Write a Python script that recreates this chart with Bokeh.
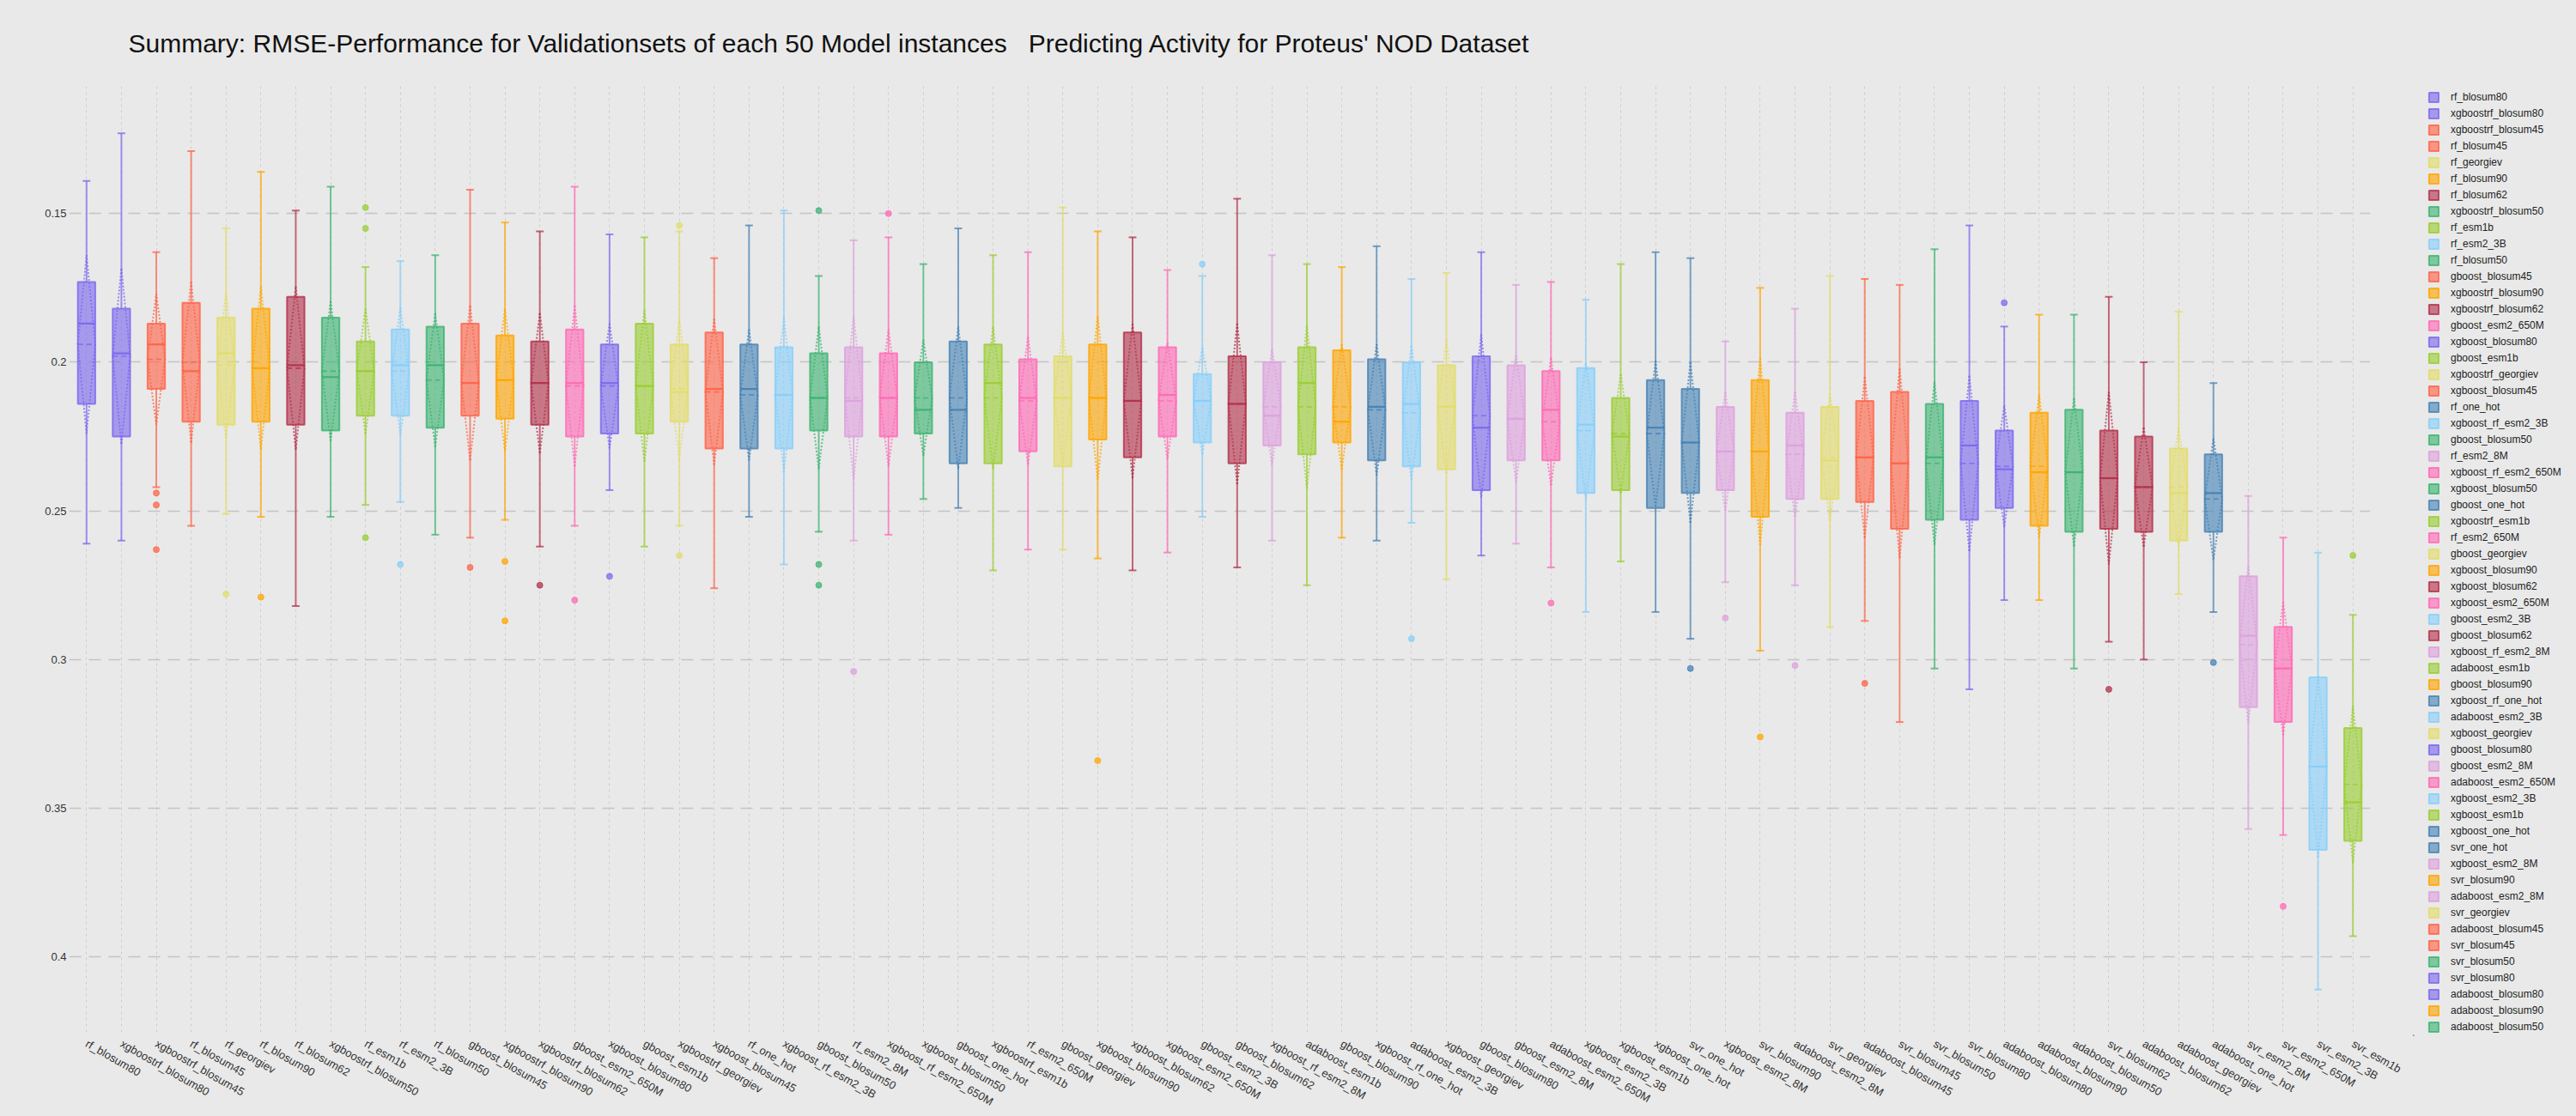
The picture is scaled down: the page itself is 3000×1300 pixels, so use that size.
import math
from bokeh.plotting import figure
from bokeh.layouts import row
from bokeh.models import (ColumnDataSource, FactorRange, Range1d, FixedTicker,
                          NumeralTickFormatter, Legend, LegendItem, Title)
from bokeh.transform import dodge
from bokeh.embed import file_html
from bokeh.resources import INLINE

TITLE = ("Summary: RMSE-Performance for Validationsets of each 50 Model instances   "
         "Predicting Activity for Proteus' NOD Dataset")

models = [
    "rf_blosum80", "xgboostrf_blosum80", "xgboostrf_blosum45", "rf_blosum45", "rf_georgiev",
    "rf_blosum90", "rf_blosum62", "xgboostrf_blosum50", "rf_esm1b", "rf_esm2_3B",
    "rf_blosum50", "gboost_blosum45", "xgboostrf_blosum90", "xgboostrf_blosum62", "gboost_esm2_650M",
    "xgboost_blosum80", "gboost_esm1b", "xgboostrf_georgiev", "xgboost_blosum45", "rf_one_hot",
    "xgboost_rf_esm2_3B", "gboost_blosum50", "rf_esm2_8M", "xgboost_rf_esm2_650M", "xgboost_blosum50",
    "gboost_one_hot", "xgboostrf_esm1b", "rf_esm2_650M", "gboost_georgiev", "xgboost_blosum90",
    "xgboost_blosum62", "xgboost_esm2_650M", "gboost_esm2_3B", "gboost_blosum62", "xgboost_rf_esm2_8M",
    "adaboost_esm1b", "gboost_blosum90", "xgboost_rf_one_hot", "adaboost_esm2_3B", "xgboost_georgiev",
    "gboost_blosum80", "gboost_esm2_8M", "adaboost_esm2_650M", "xgboost_esm2_3B", "xgboost_esm1b",
    "xgboost_one_hot", "svr_one_hot", "xgboost_esm2_8M", "svr_blosum90", "adaboost_esm2_8M",
    "svr_georgiev", "adaboost_blosum45", "svr_blosum45", "svr_blosum50", "svr_blosum80",
    "adaboost_blosum80", "adaboost_blosum90", "adaboost_blosum50", "svr_blosum62", "adaboost_blosum62",
    "adaboost_georgiev", "adaboost_one_hot", "svr_esm2_8M", "svr_esm2_650M", "svr_esm2_3B",
    "svr_esm1b",
]

# upper whisker end (smallest RMSE, drawn at top because axis is reversed)
whisker_low = [
    .139, .123, .163, .129, .155, .136, .149, .141, .168, .166,
    .164, .142, .153, .156, .141, .157, .158, .156, .165, .154,
    .149, .171, .159, .158, .167, .155, .164, .163, .148, .156,
    .158, .169, .171, .145, .164, .167, .168, .161, .172, .170,
    .163, .174, .173, .179, .167, .163, .165, .193, .175, .182,
    .171, .172, .174, .162, .154, .188, .184, .184, .178, .200,
    .183, .207, .245, .259, .264, .285,
]
q1_vals = [
    .173, .182, .187, .180, .185, .182, .178, .185, .193, .189,
    .188, .187, .191, .193, .189, .194, .187, .194, .190, .194,
    .195, .197, .195, .197, .200, .193, .194, .199, .198, .194,
    .190, .195, .204, .198, .200, .195, .196, .199, .200, .201,
    .198, .201, .203, .202, .212, .206, .209, .215, .206, .217,
    .215, .213, .210, .214, .213, .223, .217, .216, .223, .225,
    .229, .231, .272, .289, .306, .323,
]
median_vals = [
    .187, .197, .194, .203, .197, .202, .201, .205, .203, .201,
    .201, .207, .206, .207, .207, .207, .208, .210, .209, .209,
    .211, .212, .213, .212, .216, .216, .207, .212, .212, .212,
    .213, .211, .213, .214, .218, .207, .220, .215, .214, .215,
    .222, .219, .216, .221, .225, .222, .227, .230, .230, .228,
    .233, .232, .234, .232, .228, .236, .237, .237, .239, .242,
    .244, .244, .292, .303, .336, .348,
]
mean_vals = [
    .194, .198, .199, .200, .201, .202, .202, .203, .203, .203,
    .206, .207, .206, .207, .208, .208, .208, .209, .210, .211,
    .211, .212, .212, .212, .212, .212, .212, .213, .212, .212,
    .213, .213, .213, .214, .215, .215, .215, .216, .217, .215,
    .218, .219, .220, .223, .224, .224, .227, .230, .230, .231,
    .232, .232, .234, .234, .234, .235, .235, .237, .239, .242,
    .242, .246, .295, .303, .336, .342,
]
q3_vals = [
    .214, .225, .209, .220, .221, .220, .221, .223, .218, .218,
    .222, .218, .219, .221, .225, .224, .224, .220, .229, .229,
    .229, .223, .225, .225, .224, .234, .234, .230, .235, .226,
    .232, .225, .227, .234, .228, .231, .227, .233, .235, .236,
    .243, .233, .233, .244, .243, .249, .244, .243, .252, .246,
    .246, .247, .256, .253, .253, .249, .255, .257, .256, .257,
    .260, .257, .316, .321, .364, .361,
]
whisker_high = [
    .261, .260, .242, .255, .251, .252, .282, .252, .248, .247,
    .258, .259, .253, .262, .255, .243, .262, .255, .276, .252,
    .268, .257, .260, .258, .246, .249, .270, .263, .263, .266,
    .270, .264, .252, .269, .260, .275, .259, .260, .254, .273,
    .265, .261, .269, .284, .267, .284, .293, .274, .297, .275,
    .289, .287, .321, .303, .310, .280, .280, .303, .294, .300,
    .278, .284, .357, .359, .411, .393,
]
sd_vals = [
    .030, .0295, .022, .027, .0245, .0275, .0275, .0235, .021, .0215,
    .0225, .026, .024, .0235, .027, .021, .0255, .0235, .0245, .022,
    .026, .024, .0275, .023, .0195, .024, .024, .0215, .022, .0275,
    .026, .0195, .018, .027, .0195, .0275, .021, .022, .0225, .0225,
    .0275, .0215, .0215, .023, .020, .0245, .027, .020, .0315, .021,
    .0215, .027, .032, .0275, .0295, .0205, .024, .025, .029, .020,
    .020, .0205, .0265, .0225, .0305, .0265,
]

outlier_model = [
    "xgboostrf_blosum45", "xgboostrf_blosum45", "xgboostrf_blosum45", "rf_georgiev", "rf_blosum90",
    "rf_esm1b", "rf_esm1b", "rf_esm1b", "rf_esm2_3B", "gboost_blosum45",
    "xgboostrf_blosum90", "xgboostrf_blosum90", "xgboostrf_blosum62", "gboost_esm2_650M", "xgboost_blosum80",
    "xgboostrf_georgiev", "xgboostrf_georgiev", "gboost_blosum50", "gboost_blosum50", "gboost_blosum50",
    "rf_esm2_8M", "xgboost_rf_esm2_650M", "xgboost_blosum90", "gboost_esm2_3B", "adaboost_esm2_3B",
    "adaboost_esm2_650M", "svr_one_hot", "xgboost_esm2_8M", "svr_blosum90", "adaboost_esm2_8M",
    "adaboost_blosum45", "adaboost_blosum80", "svr_blosum62", "adaboost_one_hot", "svr_esm2_650M",
    "svr_esm1b",
]
outlier_value = [
    .244, .248, .263, .278, .279,
    .148, .155, .259, .268, .269,
    .267, .287, .275, .280, .272,
    .154, .265, .149, .268, .275,
    .304, .150, .334, .167, .293,
    .281, .303, .286, .326, .302,
    .308, .180, .310, .301, .383,
    .265,
]

feature_colors = {
    "blosum80": "mediumslateblue", "blosum45": "tomato", "georgiev": "#e2dc6a",
    "blosum90": "orange", "blosum62": "#b3304a", "blosum50": "mediumseagreen",
    "esm1b": "yellowgreen", "esm2_3B": "lightskyblue", "esm2_650M": "hotpink",
    "one_hot": "steelblue", "esm2_8M": "plum",
}
y_ticks = [0.15, 0.2, 0.25, 0.3, 0.35, 0.4]
legend_visible = 58


def color_of(name):
    for feat, col in feature_colors.items():
        if name.endswith(feat):
            return col
    return "gray"


colors = [color_of(m) for m in models]
src = ColumnDataSource(dict(
    model=models, lo=whisker_low, q1=q1_vals, med=median_vals, mean=mean_vals,
    q3=q3_vals, hi=whisker_high,
    m_lo=[m - s for m, s in zip(mean_vals, sd_vals)],
    m_hi=[m + s for m, s in zip(mean_vals, sd_vals)],
    color=colors,
))
out_src = ColumnDataSource(dict(model=outlier_model, val=outlier_value,
                                color=[color_of(m) for m in outlier_model]))

BG = "#e9e9e9"
FONT = "Liberation Sans"
BOX_STYLE = dict(width=0.5, top="q1", bottom="q3", fill_color="color", fill_alpha=0.62,
                 line_color="color", line_width=2, line_alpha=0.8)

p = figure(
    x_range=FactorRange(*models), y_range=Range1d(0.4265, 0.1072),
    width=2810, height=1300, output_backend="svg", toolbar_location=None,
    background_fill_color=BG, border_fill_color=BG,
    min_border_left=80, min_border_right=50, min_border_top=100, min_border_bottom=93,
)
p.outline_line_color = None
# keep the wide gap between the two title parts visible (SVG collapses plain spaces)
title_shown = TITLE.replace("   ", " \u00a0 ")
p.add_layout(Title(text=title_shown, align="left", offset=69, standoff=63, vertical_align="top",
                   text_font=FONT, text_font_size="30px", text_font_style="normal",
                   text_color="#111111"), "above")

# axes
p.yaxis.ticker = FixedTicker(ticks=y_ticks)
p.yaxis.formatter = NumeralTickFormatter(format="0.[00]")
for ax in (p.xaxis, p.yaxis):
    ax.axis_line_color = None
    ax.major_tick_line_color = None
    ax.minor_tick_line_color = None
    ax.major_tick_out = 0
    ax.major_tick_in = 0
    ax.minor_tick_out = 0
    ax.minor_tick_in = 0
    ax.major_label_text_font = FONT
    ax.major_label_text_color = "#333333"
    ax.major_label_text_font_size = "13px"
p.yaxis.major_label_standoff = 3
p.xaxis.major_label_standoff = 8
p.xaxis.major_label_orientation = -math.pi / 6

p.ygrid.grid_line_color = "#c4c4c4"
p.ygrid.grid_line_dash = "14 9"
p.ygrid.grid_line_width = 1.3
p.xgrid.grid_line_color = "#cdcdcd"
p.xgrid.grid_line_dash = "3 4"
p.xgrid.grid_line_width = 1

xr = p.x_range
LW = 2
# whiskers
p.segment(x0="model", y0="lo", x1="model", y1="q1", line_color="color",
          line_width=LW, line_alpha=0.7, source=src)
p.segment(x0="model", y0="q3", x1="model", y1="hi", line_color="color",
          line_width=LW, line_alpha=0.7, source=src)
for col in ("lo", "hi"):
    p.segment(x0=dodge("model", -0.11, range=xr), y0=col,
              x1=dodge("model", 0.11, range=xr), y1=col,
              line_color="color", line_width=LW, line_alpha=0.75, source=src)
# boxes
p.vbar(x="model", source=src, **BOX_STYLE)
# mean +/- sd diamond (dotted)
for (dx0, c0, dx1, c1) in [(-0.25, "mean", 0.0, "m_lo"), (0.0, "m_lo", 0.25, "mean"),
                           (0.25, "mean", 0.0, "m_hi"), (0.0, "m_hi", -0.25, "mean")]:
    p.segment(x0=dodge("model", dx0, range=xr), y0=c0, x1=dodge("model", dx1, range=xr), y1=c1,
              line_color="color", line_width=2, line_alpha=0.75, line_dash="2 2", source=src)
# mean line (dashed) and median line (solid)
p.segment(x0=dodge("model", -0.25, range=xr), y0="mean", x1=dodge("model", 0.25, range=xr),
          y1="mean", line_color="color", line_width=1.6, line_alpha=0.85, line_dash="6 4", source=src)
p.segment(x0=dodge("model", -0.25, range=xr), y0="med", x1=dodge("model", 0.25, range=xr),
          y1="med", line_color="color", line_width=2.2, line_alpha=0.95, source=src)
# outliers
p.scatter(x="model", y="val", size=7, fill_color="color", line_color="color",
          fill_alpha=0.75, line_alpha=0.75, source=out_src)

# legend panel to the right of the plot (a second, axis-less figure)
lg = figure(x_range=FactorRange(*models), y_range=Range1d(10, 11),
            width=190, height=1300, output_backend="svg", toolbar_location=None,
            x_axis_location=None, y_axis_location=None, min_border=0,
            background_fill_color=BG, border_fill_color=BG)
lg.outline_line_color = None
lg.grid.visible = False
# key-only renderer: placed well outside lg's visible ranges, it only feeds the legend swatches
r_key = lg.vbar(x=dodge("model", -500, range=lg.x_range), source=src, **BOX_STYLE)
items = [LegendItem(label=m, renderers=[r_key], index=i)
         for i, m in enumerate(models[:legend_visible])]
legend = Legend(items=items, location=(17, 3), orientation="vertical",
                glyph_width=14, glyph_height=14, label_height=14, spacing=5,
                padding=0, margin=0, label_standoff=13,
                label_text_font=FONT, label_text_font_size="12px", label_text_color="#222222",
                background_fill_alpha=0, border_line_color=None)
lg.add_layout(legend, "center")

layout = row(p, lg, styles={"background-color": BG})
open("out.html", "w").write(file_html(layout, INLINE, title="RMSE summary"))
